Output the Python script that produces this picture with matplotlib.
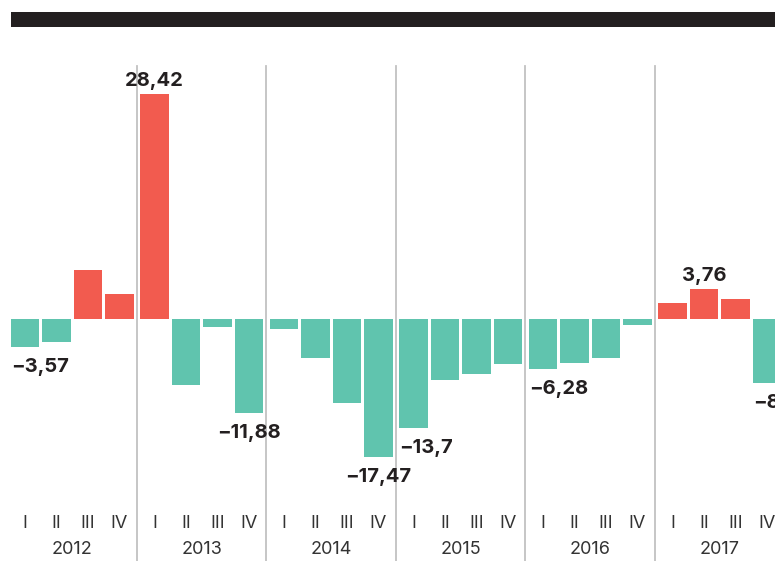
import numpy as np
import matplotlib.pyplot as plt
from matplotlib.patches import Rectangle
from matplotlib.transforms import blended_transform_factory

plt.rcParams['font.family'] = ['Inter', 'DejaVu Sans']

# данные: изменение по кварталам
years = ['2012', '2013', '2014', '2015', '2016', '2017']
quarters = ['I', 'II', 'III', 'IV']
values = [-3.57, -2.87, 6.19, 3.16,
          28.42, -8.33, -0.97, -11.88,
          -1.26, -4.90, -10.60, -17.47,
          -13.70, -7.70, -6.90, -5.70,
          -6.28, -5.56, -4.92, -0.76,
          2.06, 3.76, 2.53, -8.04]
# подписанные столбики: индекс -> выравнивание
labeled = {0: 'left', 4: 'center', 7: 'center', 11: 'center',
           12: 'left', 16: 'left', 21: 'center', 23: 'left'}

RED = '#F25B4F'
TEAL = '#60C4AE'
DARK = '#231F20'

block = 4 + 1 / 9  # ширина года в "кварталах"
bw = 0.889
x = np.array([yi * block + qi for yi in range(len(years)) for qi in range(4)])
v = np.array(values)

fig = plt.figure(figsize=[7.75, 5.61], dpi=100)
ax = fig.add_axes([0, 0, 1, 1])
ax.set_xlim(-25 / 31.5, -25 / 31.5 + 775 / 31.5)
ax.set_ylim(-(561 - 319) / 7.92, 319 / 7.92)
ax.axis('off')

# черная полоса сверху
fig.add_artist(Rectangle((11 / 775, 1 - 27 / 561), 1, 15 / 561,
                         transform=fig.transFigure, color=DARK, lw=0))

# разделители годов
for yi in range(1, len(years)):
    ax.axvline(yi * block - 0.5 - 1 / 18, ymin=0, ymax=1 - 66 / 561,
               color='#C2C2C2', lw=1.3, zorder=0)

colors = [RED if val > 0 else TEAL for val in v]
ax.bar(x, v, width=bw, color=colors, zorder=2)

for i, ha in labeled.items():
    val = v[i]
    txt = f'{val:.2f}'.rstrip('0').replace('.', ',').replace('-', '\u2212')
    xx = x[i] - bw / 2 if ha == 'left' else x[i]
    if val > 0:
        ax.annotate(txt, (xx, val), xytext=(0, 8), textcoords='offset pixels',
                    ha=ha, va='baseline', fontsize=14.5, fontweight='bold', color=DARK)
    else:
        ax.annotate(txt, (xx, val), xytext=(0, -11), textcoords='offset pixels',
                    ha=ha, va='top', fontsize=14.5, fontweight='bold', color=DARK)

tr = blended_transform_factory(ax.transData, ax.transAxes)
for qi, xi in enumerate(x):
    ax.text(xi, 1 - 523 / 561, quarters[qi % 4], transform=tr, ha='center',
            va='center', fontsize=13, color='#333333')
for yi, yr in enumerate(years):
    ax.text(yi * block + 1.5, 1 - 550 / 561, yr, transform=tr, ha='center',
            va='center', fontsize=13, color='#333333')

plt.savefig('out.png')
plt.close()
